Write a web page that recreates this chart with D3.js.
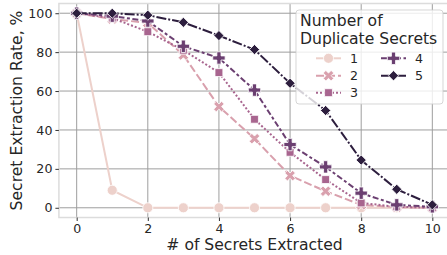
<!DOCTYPE html>
<html>
<head>
<meta charset="utf-8">
<script src="https://cdn.jsdelivr.net/npm/d3@7"></script>
<style>
  html, body { margin: 0; padding: 0; background: #fff; }
  svg { display: block; font-family: "DejaVu Sans", sans-serif; }
</style>
</head>
<body>
<div id="chart"></div>
<script>
const secretsExtracted = [0, 1, 2, 3, 4, 5, 6, 7, 8, 9, 10];
const dup1 = [100, 9, 0, 0, 0, 0, 0, 0, 0, 0, 0];
const dup2 = [100, 97, 95, 78.5, 52, 35.5, 16.5, 8.5, 1.5, 0.3, 0];
const dup3 = [100, 97.5, 90.5, 81, 69.5, 45.5, 28.5, 14.5, 2.5, 0.5, 0];
const dup4 = [100, 98.5, 96, 83, 77, 60.5, 32.5, 21, 7.5, 1.5, 0.5];
const dup5 = [100, 100, 99, 95.3, 88.5, 81.3, 64, 50, 24.5, 9.5, 1.5];
const seriesLabels = ["1", "2", "3", "4", "5"];
const xTicks = [0, 2, 4, 6, 8, 10];
const yTicks = [0, 20, 40, 60, 80, 100];

const colors = ["#edd1cb", "#d9a0ad", "#a8658f", "#6b3f71", "#2d1e3e"];
const dashes = [null, "8,3", "2,2", "6,2.5,3,2.5", "10,2,2,2"];
const markers = [
  { type: d3.symbolCircle, size: 80, rotate: 0 },
  { type: d3.symbolCross, size: 70, rotate: 45 },
  { type: d3.symbolSquare, size: 62, rotate: 0 },
  { type: d3.symbolCross, size: 85, rotate: 0 },
  { type: d3.symbolSquare, size: 52, rotate: 45 },
];

const series = [dup1, dup2, dup3, dup4, dup5].map((vals, i) => ({
  label: seriesLabels[i],
  values: vals.map((v, j) => ({ x: secretsExtracted[j], y: v })),
}));

const width = 447;
const height = 255;
const plot = { left: 58.9, right: 450.1, top: 3.5, bottom: 217.5 };

const x = d3.scaleLinear().domain([-0.5, 10.5]).range([plot.left, plot.right]);
const y = d3.scaleLinear().domain([-5, 105]).range([plot.bottom, plot.top]);

const svg = d3.select("#chart")
  .append("svg")
  .attr("width", width)
  .attr("height", height);

// grid
svg.append("g")
  .selectAll("line")
  .data(xTicks)
  .join("line")
  .attr("x1", (d) => x(d)).attr("x2", (d) => x(d))
  .attr("y1", plot.top).attr("y2", plot.bottom)
  .attr("stroke", "#9e9e9e").attr("stroke-width", 1);

svg.append("g")
  .selectAll("line")
  .data(yTicks)
  .join("line")
  .attr("x1", plot.left).attr("x2", plot.right)
  .attr("y1", (d) => y(d)).attr("y2", (d) => y(d))
  .attr("stroke", "#9e9e9e").attr("stroke-width", 1);

// frame
svg.append("rect")
  .attr("x", plot.left).attr("y", plot.top)
  .attr("width", plot.right - plot.left).attr("height", plot.bottom - plot.top)
  .attr("fill", "none").attr("stroke", "#dcdcdc").attr("stroke-width", 1.5);

// axes
const xAxis = svg.append("g")
  .attr("transform", `translate(0,${plot.bottom})`)
  .call(d3.axisBottom(x).tickValues(xTicks).tickSize(3.5).tickPadding(3.5));
const yAxis = svg.append("g")
  .attr("transform", `translate(${plot.left},0)`)
  .call(d3.axisLeft(y).tickValues(yTicks).tickSize(3.5).tickPadding(3));

[xAxis, yAxis].forEach((ax) => {
  ax.select(".domain").remove();
  ax.selectAll(".tick line").attr("stroke", "#333").attr("stroke-width", 1);
  ax.selectAll(".tick text")
    .attr("fill", "#262626")
    .attr("font-size", 12.6)
    .attr("font-family", "DejaVu Sans");
});

svg.append("text")
  .attr("x", x(5)).attr("y", 250)
  .attr("text-anchor", "middle")
  .attr("font-size", 15.6).attr("fill", "#262626")
  .text("# of Secrets Extracted");

svg.append("text")
  .attr("transform", `translate(22,${(plot.top + plot.bottom) / 2}) rotate(-90)`)
  .attr("text-anchor", "middle")
  .attr("font-size", 15.6).attr("fill", "#262626")
  .text("Secret Extraction Rate, %");

// lines and markers
const line = d3.line().x((d) => x(d.x)).y((d) => y(d.y));
const plotArea = svg.append("g");

series.forEach((s, i) => {
  const g = plotArea.append("g");
  g.append("path")
    .datum(s.values)
    .attr("d", line)
    .attr("fill", "none")
    .attr("stroke", colors[i])
    .attr("stroke-width", 2)
    .attr("stroke-dasharray", dashes[i]);
  g.selectAll("path.marker")
    .data(s.values)
    .join("path")
    .attr("class", "marker")
    .attr("d", d3.symbol().type(markers[i].type).size(markers[i].size))
    .attr("transform", (d) => `translate(${x(d.x)},${y(d.y)}) rotate(${markers[i].rotate})`)
    .attr("fill", colors[i])
    .attr("stroke", "#fff")
    .attr("stroke-width", 0.8);
});

// legend
const legend = svg.append("g");
legend.append("rect")
  .attr("x", 296).attr("y", 10)
  .attr("width", 147).attr("height", 94)
  .attr("rx", 3)
  .attr("fill", "#fff").attr("fill-opacity", 0.8)
  .attr("stroke", "#cccccc").attr("stroke-opacity", 0.8);

legend.append("text")
  .attr("x", 300).attr("y", 26)
  .attr("font-size", 15.6).attr("fill", "#262626")
  .text("Number of");
legend.append("text")
  .attr("x", 300).attr("y", 44)
  .attr("font-size", 15.6).attr("fill", "#262626")
  .text("Duplicate Secrets");

const legendPos = [
  { x: 316, y: 58.3 }, { x: 316, y: 75.7 }, { x: 316, y: 92.7 },
  { x: 381, y: 58.3 }, { x: 381, y: 75.7 },
];

series.forEach((s, i) => {
  const p = legendPos[i];
  const item = legend.append("g").attr("transform", `translate(${p.x},${p.y})`);
  item.append("line")
    .attr("x1", 0).attr("x2", 25)
    .attr("stroke", colors[i]).attr("stroke-width", 2)
    .attr("stroke-dasharray", dashes[i]);
  item.append("path")
    .attr("d", d3.symbol().type(markers[i].type).size(markers[i].size))
    .attr("transform", `translate(12.5,0) rotate(${markers[i].rotate})`)
    .attr("fill", colors[i]).attr("stroke", "#fff").attr("stroke-width", 0.8);
  item.append("text")
    .attr("x", 34).attr("y", 4.6)
    .attr("font-size", 12.6).attr("fill", "#262626")
    .text(s.label);
});
</script>
</body>
</html>
